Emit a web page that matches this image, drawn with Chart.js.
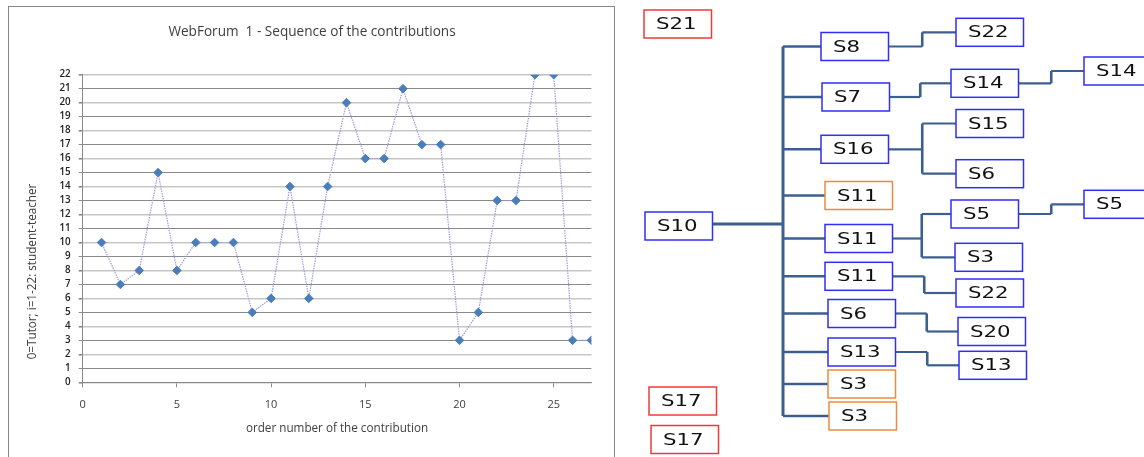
<!DOCTYPE html>
<html>
<head>
<meta charset="utf-8">
<script src="https://cdn.jsdelivr.net/npm/chart.js@4.4.1/dist/chart.umd.min.js"></script>
<style>
  body { margin: 0; background: #fff; width: 1144px; height: 457px; overflow: hidden; position: relative; }
  #frame { position: absolute; left: 8px; top: 6px; width: 607px; height: 470px; border: 1px solid #868686; box-sizing: border-box; }
  #seqChart { position: absolute; left: 0; top: 0; }
  #treeChart { position: absolute; left: 630px; top: 0; }
</style>
</head>
<body>
<div id="frame"></div>
<canvas id="seqChart" width="620" height="457"></canvas>
<canvas id="treeChart" width="514" height="457"></canvas>
<script>
// sequence of contributions (x = order number, y = who wrote it)
const contributionOrder = [1, 2, 3, 4, 5, 6, 7, 8, 9, 10, 11, 12, 13, 14, 15, 16, 17, 18, 19, 20, 21, 22, 23, 24, 25, 26, 27];
const contributorIndex = [10, 7, 8, 15, 8, 10, 10, 10, 5, 6, 14, 6, 14, 20, 16, 16, 21, 17, 17, 3, 5, 13, 13, 22, 22, 3, 3];
const xTickValues = [0, 5, 10, 15, 20, 25];
const xMax = 27;
const yMax = 22;

// reply tree of the forum
const nodeLabels  = ['S21', 'S10', 'S17', 'S17', 'S8', 'S7', 'S16', 'S11', 'S11', 'S11', 'S6', 'S13', 'S3', 'S3',
                     'S22', 'S14', 'S15', 'S6', 'S5', 'S3', 'S22', 'S20', 'S13', 'S14', 'S5'];
const nodeParents = [-1, -1, -1, -1, 1, 1, 1, 1, 1, 1, 1, 1, 1, 1,
                     4, 5, 6, 6, 8, 8, 9, 10, 11, 15, 18];
const nodeRoles   = ['alone', 'post', 'alone', 'alone', 'post', 'post', 'post', 'open', 'post', 'post', 'post', 'post', 'open', 'open',
                     'post', 'post', 'post', 'post', 'post', 'post', 'post', 'post', 'post', 'post', 'post'];
// diagram layout (left edge and middle line of each box, in diagram units)
const nodeLeft = [644, 645, 649, 651, 821, 822, 821, 825, 825, 825, 828, 828, 828, 829,
                  956, 951, 956, 956, 951, 955, 956, 958, 959, 1084, 1084];
const nodeMidY = [24, 226, 401, 439.5, 46.5, 97, 149.3, 195.5, 238.5, 276.3, 313.5, 352, 384, 416,
                  32.3, 83.3, 123.5, 173.7, 214, 257.3, 293, 331.5, 365.3, 71, 204.3];

const roleColors = { post: '#2f2ff5', open: '#ee8a3c', alone: '#f03a3a' };
const gridDark = '#8a8a8a';
const gridLight = '#c6c6c6';
const textColor = '#404040';

// chart title and y title sit off-centre in the original, so they are drawn here
const titlesPlugin = {
    id: 'titles',
    afterDraw(chart) {
        const ctx = chart.ctx;
        ctx.save();
        ctx.fillStyle = textColor;
        ctx.textAlign = 'center';
        ctx.textBaseline = 'middle';
        ctx.font = '13.6px "Open Sans"';
        ctx.fillText('WebForum  1 - Sequence of the contributions', 312, 32);
        ctx.translate(32.7, 271.5);
        ctx.rotate(-Math.PI / 2);
        ctx.font = '11.7px "Open Sans"';
        ctx.fillText('0=Tutor; i=1-22: student-teacher', 0, 0);
        ctx.restore();
    }
};

new Chart(document.getElementById('seqChart'), {
    type: 'line',
    data: {
        datasets: [{
            data: contributionOrder.map((x, i) => ({ x: x, y: contributorIndex[i] })),
            borderColor: '#9c9cdc',
            borderWidth: 1.2,
            borderDash: [1.5, 1],
            pointStyle: 'rectRot',
            pointRadius: 4.3,
            pointBackgroundColor: '#4a7ebb',
            pointBorderColor: '#4a7ebb',
            pointBorderWidth: 1,
            tension: 0
        }]
    },
    options: {
        responsive: false,
        animation: false,
        layout: { padding: { left: 0, right: 28.6, top: 74.7, bottom: 0 } },
        plugins: {
            legend: { display: false },
            tooltip: { enabled: false },
            title: { display: false }
        },
        scales: {
            x: {
                type: 'linear',
                min: 0,
                max: xMax,
                afterBuildTicks: scale => { scale.ticks = xTickValues.map(v => ({ value: v })); },
                afterFit: scale => { scale.height = 74.7; },
                grid: { drawOnChartArea: false, drawTicks: true, tickLength: 5, color: gridDark },
                border: { display: true, color: gridDark },
                ticks: { color: textColor, padding: 11, maxRotation: 0, font: { family: 'Open Sans', size: 11 } },
                title: {
                    display: true,
                    text: 'order number of the contribution',
                    color: textColor,
                    font: { family: 'Open Sans', size: 11.7 },
                    padding: { top: 0, bottom: 21 }
                }
            },
            y: {
                min: 0,
                max: yMax,
                afterFit: scale => { scale.width = 82.7; },
                grid: {
                    color: c => (c.tick && c.tick.value % 2 === 1) ? gridDark : gridLight,
                    lineWidth: c => (c.tick && c.tick.value % 2 === 1) ? 1 : 1.6,
                    tickColor: gridDark,
                    tickLength: 4
                },
                border: { display: true, color: gridDark },
                ticks: { stepSize: 1, autoSkip: false, color: '#222', padding: 8, font: { family: 'Open Sans', size: 9.8, weight: '600' } }
            }
        }
    },
    plugins: [titlesPlugin]
});

// tree drawn on top of an invisible scatter chart so positions go through its scales
const boxWidth = 67.5;
const boxHeight = 28;
const lineColor = '#3d5f8f';

const treePlugin = {
    id: 'treeDraw',
    afterDatasetsDraw(chart) {
        const ctx = chart.ctx;
        const sx = chart.scales.x;
        const sy = chart.scales.y;
        const px = v => sx.getPixelForValue(v);
        const py = v => sy.getPixelForValue(v);
        ctx.save();
        ctx.strokeStyle = lineColor;
        ctx.lineCap = 'butt';

        nodeLabels.forEach((label, p) => {
            const kids = nodeParents.map((par, i) => par === p ? i : -1).filter(i => i >= 0);
            if (!kids.length) return;
            const pRight = nodeLeft[p] + boxWidth;
            const kidYs = kids.map(k => nodeMidY[k]);
            if (nodeParents[p] === -1) {
                // root: trunk with one branch per reply
                const trunkX = 783;
                ctx.lineWidth = 3;
                ctx.beginPath();
                ctx.moveTo(px(pRight), py(nodeMidY[p] - 2));
                ctx.lineTo(px(trunkX), py(nodeMidY[p] - 2));
                ctx.moveTo(px(trunkX), py(Math.min(...kidYs)));
                ctx.lineTo(px(trunkX), py(Math.max(...kidYs)));
                ctx.stroke();
                ctx.lineWidth = 2.5;
                kids.forEach(k => {
                    ctx.beginPath();
                    ctx.moveTo(px(trunkX), py(nodeMidY[k]));
                    ctx.lineTo(px(nodeLeft[k]), py(nodeMidY[k]));
                    ctx.stroke();
                });
            } else {
                const midX = (pRight + Math.min(...kids.map(k => nodeLeft[k]))) / 2;
                ctx.lineWidth = 2.2;
                ctx.beginPath();
                ctx.moveTo(px(pRight), py(nodeMidY[p]));
                ctx.lineTo(px(midX), py(nodeMidY[p]));
                ctx.stroke();
                ctx.lineWidth = 2.6;
                ctx.beginPath();
                ctx.moveTo(px(midX), py(Math.min(nodeMidY[p], ...kidYs)));
                ctx.lineTo(px(midX), py(Math.max(nodeMidY[p], ...kidYs)));
                ctx.stroke();
                ctx.lineWidth = 2.2;
                kids.forEach(k => {
                    ctx.beginPath();
                    ctx.moveTo(px(midX), py(nodeMidY[k]));
                    ctx.lineTo(px(nodeLeft[k]), py(nodeMidY[k]));
                    ctx.stroke();
                });
            }
        });

        nodeLabels.forEach((label, i) => {
            const x0 = px(nodeLeft[i]);
            const y0 = py(nodeMidY[i] - boxHeight / 2);
            const w = px(nodeLeft[i] + boxWidth) - x0;
            const h = py(nodeMidY[i] + boxHeight / 2) - y0;
            ctx.fillStyle = '#ffffff';
            ctx.fillRect(x0, y0, w, h);
            ctx.strokeStyle = roleColors[nodeRoles[i]];
            ctx.lineWidth = 1.5;
            ctx.strokeRect(x0, y0, w, h);
            ctx.save();
            ctx.translate(x0 + 12, y0 + h / 2 + 1);
            ctx.scale(1.33, 1);
            ctx.font = '16px "DejaVu Sans"';
            ctx.fillStyle = '#111';
            ctx.textAlign = 'left';
            ctx.textBaseline = 'middle';
            ctx.fillText(label, 0, 0);
            ctx.restore();
        });
        ctx.restore();
    }
};

new Chart(document.getElementById('treeChart'), {
    type: 'scatter',
    data: {
        datasets: [{
            data: nodeLabels.map((l, i) => ({ x: nodeLeft[i] + boxWidth / 2, y: nodeMidY[i] })),
            pointRadius: 0
        }]
    },
    options: {
        responsive: false,
        animation: false,
        layout: { padding: 0 },
        plugins: { legend: { display: false }, tooltip: { enabled: false } },
        scales: {
            x: { display: false, min: 630, max: 1144 },
            y: { display: false, min: 0, max: 457, reverse: true }
        }
    },
    plugins: [treePlugin]
});
</script>
</body>
</html>
